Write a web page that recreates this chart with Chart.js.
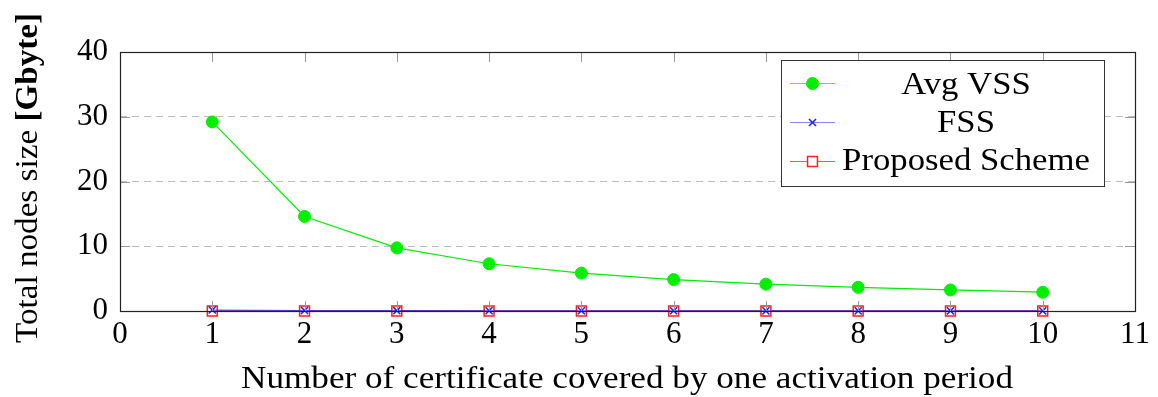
<!DOCTYPE html>
<html>
<head>
<meta charset="utf-8">
<script src="https://cdn.jsdelivr.net/npm/chart.js@4.4.1/dist/chart.umd.min.js"></script>
<style>
  html, body { margin: 0; padding: 0; background: #fff; }
  #wrap { width: 1158px; height: 397px; }
</style>
</head>
<body>
<div id="wrap"><canvas id="c" width="1158" height="397"></canvas></div>
<script>
// Certificates covered by one activation period
const periods = [1, 2, 3, 4, 5, 6, 7, 8, 9, 10];
// Total nodes size in Gbyte
const avgVss   = [29.2, 14.6, 9.75, 7.3, 5.85, 4.85, 4.15, 3.65, 3.25, 2.9];
const fss      = [0.15, 0.08, 0.05, 0.04, 0.03, 0.03, 0.02, 0.02, 0.02, 0.02];
const proposed = [0, 0, 0, 0, 0, 0, 0, 0, 0, 0];
const xTicks = [0, 1, 2, 3, 4, 5, 6, 7, 8, 9, 10, 11];
const yTicks = [0, 10, 20, 30, 40];
const seriesNames = ['Avg VSS', 'FSS', 'Proposed Scheme'];
const xTitle = 'Number of certificate covered by one activation period';
const yTitleParts = ['Total nodes size ', '[Gbyte]'];

const SERIF = '"Liberation Serif", "DejaVu Serif", serif';

function pts(ys) { return periods.map((x, i) => ({ x: x, y: ys[i] })); }

// Width of a run of text pieces, each in its own weight
function measureParts(ctx, parts, weights, size) {
  let total = 0;
  const widths = parts.map((p, i) => {
    ctx.font = weights[i] + ' ' + size + 'px ' + SERIF;
    const w = ctx.measureText(p).width;
    total += w;
    return w;
  });
  return { total, widths };
}

const framePlugin = {
  id: 'frame',
  afterDatasetsDraw(chart) {
    const { ctx, chartArea: a, scales } = chart;
    ctx.save();
    // inward tick marks on all four sides
    ctx.strokeStyle = '#9a9a9a';
    ctx.lineWidth = 1;
    ctx.beginPath();
    xTicks.forEach(v => {
      const x = Math.round(scales.x.getPixelForValue(v)) + 0.5;
      ctx.moveTo(x, a.bottom); ctx.lineTo(x, a.bottom - 10);
      ctx.moveTo(x, a.top); ctx.lineTo(x, a.top + 10);
    });
    yTicks.forEach(v => {
      const y = Math.round(scales.y.getPixelForValue(v)) + 0.5;
      ctx.moveTo(a.left, y); ctx.lineTo(a.left + 10, y);
      ctx.moveTo(a.right, y); ctx.lineTo(a.right - 10, y);
    });
    ctx.stroke();
    // plot frame
    ctx.strokeStyle = '#222';
    ctx.lineWidth = 1.2;
    ctx.strokeRect(a.left + 0.5, a.top + 0.5, a.right - a.left, a.bottom - a.top);
    ctx.restore();
  },
  afterDraw(chart) {
    const { ctx } = chart;
    ctx.save();
    ctx.fillStyle = '#000';
    ctx.textBaseline = 'alphabetic';
    ctx.textAlign = 'left';

    // x axis title
    {
      const m = measureParts(ctx, [xTitle], ['normal'], 31);
      ctx.save();
      ctx.translate(627 - 386, 388);
      ctx.scale(772 / m.total, 1);
      ctx.font = 'normal 31px ' + SERIF;
      ctx.fillText(xTitle, 0, 0);
      ctx.restore();
    }

    // y axis title, unit in bold
    {
      const weights = ['normal', 'bold'];
      const m = measureParts(ctx, yTitleParts, weights, 31);
      ctx.save();
      ctx.translate(37, 343);
      ctx.rotate(-Math.PI / 2);
      ctx.scale(330 / m.total, 1);
      let x = 0;
      yTitleParts.forEach((p, i) => {
        ctx.font = weights[i] + ' 31px ' + SERIF;
        ctx.fillText(p, x, 0);
        x += m.widths[i];
      });
      ctx.restore();
    }

    // legend box
    const box = { l: 781, t: 60, r: 1104, b: 186 };
    ctx.fillStyle = '#fff';
    ctx.fillRect(box.l, box.t, box.r - box.l, box.b - box.t);
    ctx.strokeStyle = '#333';
    ctx.lineWidth = 1;
    ctx.strokeRect(box.l + 0.5, box.t + 0.5, box.r - box.l, box.b - box.t);

    const rows = [83, 122, 161];
    const baselines = [94, 132, 170];
    chart.data.datasets.forEach((ds, i) => {
      const y = rows[i] + 0.5;
      // sample line
      ctx.globalAlpha = 0.75;
      ctx.strokeStyle = ds.borderColor;
      ctx.lineWidth = 1.2;
      ctx.beginPath(); ctx.moveTo(790, y); ctx.lineTo(835, y); ctx.stroke();
      ctx.globalAlpha = 1;
      // marker
      ctx.fillStyle = ds.pointBackgroundColor;
      ctx.strokeStyle = ds.pointBorderColor;
      ctx.lineWidth = ds.pointBorderWidth;
      Chart.helpers.drawPoint(ctx, {
        pointStyle: ds.pointStyle, radius: ds.pointRadius, borderWidth: ds.pointBorderWidth
      }, 812.5, y);
      // label, centred in the text column
      ctx.fillStyle = '#000';
      ctx.font = 'normal 31px ' + SERIF;
      ctx.textAlign = 'center';
      ctx.save();
      ctx.translate(966, baselines[i]);
      ctx.scale(1.12, 1);
      ctx.fillText(ds.label, 0, 0);
      ctx.restore();
    });
    ctx.restore();
  }
};

new Chart(document.getElementById('c'), {
  type: 'line',
  data: {
    datasets: [
      { label: seriesNames[0], data: pts(avgVss), borderColor: '#00ee00', borderWidth: 1.2,
        pointStyle: 'circle', pointRadius: 6, pointBackgroundColor: '#00ee00', pointBorderColor: '#00ee00',
        pointBorderWidth: 1, clip: false },
      { label: seriesNames[1], data: pts(fss), borderColor: 'rgba(40,40,255,0.75)', borderWidth: 1.2,
        pointStyle: 'crossRot', pointRadius: 5, pointBackgroundColor: '#1f1fff', pointBorderColor: '#1f1fff',
        pointBorderWidth: 1.5, clip: false },
      { label: seriesNames[2], data: pts(proposed), borderColor: 'rgba(220,0,0,0.85)', borderWidth: 1.4,
        pointStyle: 'rect', pointRadius: 7, pointBackgroundColor: '#ffffff', pointBorderColor: '#ff2020',
        pointBorderWidth: 1.5, clip: false }
    ]
  },
  options: {
    responsive: false,
    animation: false,
    events: [],
    layout: { padding: { left: 0, top: 52, right: 23, bottom: 0 } },
    plugins: { legend: { display: false }, tooltip: { enabled: false } },
    elements: { line: { tension: 0 } },
    scales: {
      x: {
        type: 'linear', min: 0, max: 11,
        afterBuildTicks: s => { s.ticks = xTicks.map(v => ({ value: v })); },
        afterFit: s => { s.height = 86; },
        grid: { display: false, drawTicks: false },
        border: { display: false },
        ticks: { color: '#000', font: { family: SERIF, size: 31 }, padding: 5, maxRotation: 0 }
      },
      y: {
        type: 'linear', min: 0, max: 40,
        afterBuildTicks: s => { s.ticks = yTicks.map(v => ({ value: v })); },
        afterFit: s => { s.width = 120; },
        grid: { color: '#bdbdbd', lineWidth: 1, drawTicks: false },
        border: { display: false, dash: [7, 5] },
        ticks: { color: '#000', font: { family: SERIF, size: 31 }, padding: 12 }
      }
    }
  },
  plugins: [framePlugin]
});
</script>
</body>
</html>
